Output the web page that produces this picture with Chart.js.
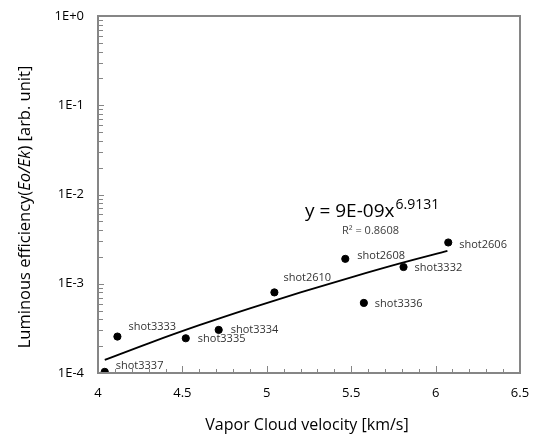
<!DOCTYPE html>
<html>
<head>
<meta charset="utf-8">
<script src="https://cdn.jsdelivr.net/npm/chart.js@4.4.1/dist/chart.umd.min.js"></script>
<style>
  html, body { margin: 0; padding: 0; background: #fff; }
  #wrap { width: 534px; height: 436px; }
</style>
</head>
<body>
<div id="wrap"><canvas id="chart"></canvas></div>
<script>
// shots
const shotNames = ["shot3337", "shot3333", "shot3335", "shot3334", "shot2610", "shot2608", "shot3336", "shot3332", "shot2606"];
const velocity = [4.04, 4.115, 4.52, 4.715, 5.045, 5.465, 5.575, 5.81, 6.075];
const efficiency = [1.03e-4, 2.56e-4, 2.45e-4, 3.04e-4, 8.0e-4, 1.9e-3, 6.1e-4, 1.54e-3, 2.9e-3];

// trend line points
const trendX = [4.04, 4.3, 4.6, 4.9, 5.2, 5.5, 5.8, 6.07];
const trendY = [1.4e-4, 2.15e-4, 3.43e-4, 5.3e-4, 8.0e-4, 1.18e-3, 1.71e-3, 2.33e-3];

const yDecades = [1e-4, 1e-3, 1e-2, 1e-1, 1];
const xTicks = [4, 4.5, 5, 5.5, 6, 6.5];

// label placement relative to each point (text left edge / vertical middle)
const labelOffsets = [[11, -6], [11, -10], [12, 1], [12, 0], [9, -15], [12, -3], [11, 1], [11, 1], [11, 2]];

const AXIS_COLOR = "#868686";
const FONT = "'Open Sans', 'Noto Sans', sans-serif";

function decadeLabel(v) {
  const e = Math.round(Math.log10(v));
  return "1E" + (e >= 0 ? "+" : "-") + Math.abs(e);
}

const titles = {
  id: "titles",
  afterDraw(chart) {
    const ctx = chart.ctx;
    const a = chart.chartArea;
    ctx.save();
    try {
      ctx.fillStyle = "#000";
      ctx.font = "16px " + FONT;
      ctx.textAlign = "center";
      ctx.textBaseline = "middle";
      ctx.fillText("Vapor Cloud velocity [km/s]", (a.left + a.right) / 2 - 2, 425);

      // y title, the ratio in italics
      const sz = "16.5px ";
      const parts = [
        ["Luminous efficiency(", sz + FONT],
        ["E", "italic " + sz + FONT],
        ["o", "italic " + sz + FONT],
        ["/", "italic " + sz + FONT],
        ["Ek", "italic " + sz + FONT],
        [") [arb. unit]", sz + FONT]
      ];
      let total = 0;
      parts.forEach(p => { ctx.font = p[1]; p.push(ctx.measureText(p[0]).width); total += p[2]; });
      ctx.translate(25, 207);
      ctx.rotate(-Math.PI / 2);
      ctx.textAlign = "left";
      let cx = -total / 2;
      parts.forEach(p => { ctx.font = p[1]; ctx.fillText(p[0], cx, 0); cx += p[2]; });
    } catch (e) { /* ignore */ }
    ctx.restore();

    ctx.save();
    try {
      ctx.fillStyle = "#000";
      ctx.textBaseline = "middle";
      ctx.textAlign = "left";
      ctx.font = "19px " + FONT;
      ctx.fillText("y = 9E-09x", 305, 212);
      const w = ctx.measureText("y = 9E-09x").width;
      ctx.font = "14px " + FONT;
      ctx.fillText("6.9131", 305 + w + 1, 205);
      ctx.fillStyle = "#404040";
      ctx.font = "11px " + FONT;
      ctx.fillText("R² = 0.8608", 342, 231);
    } catch (e) { /* ignore */ }
    ctx.restore();
  }
};

// plot box and inward ticks
const box = {
  id: "box",
  afterDraw(chart) {
    const ctx = chart.ctx;
    const sx = chart.scales.x, sy = chart.scales.y;
    ctx.save();
    try {
      const L = Math.round(sx.getPixelForValue(4));
      const R = Math.round(sx.getPixelForValue(6.5));
      const T = Math.round(sy.getPixelForValue(1));
      const B = Math.round(sy.getPixelForValue(1e-4));
      ctx.fillStyle = AXIS_COLOR;
      ctx.fillRect(L - 1, T - 1, R - L + 2, 2);
      ctx.fillRect(L - 1, B - 1, R - L + 2, 2);
      ctx.fillRect(L - 1, T - 1, 2, B - T + 2);
      ctx.fillRect(R - 1, T - 1, 2, B - T + 2);
      for (let d = 0; d < yDecades.length - 1; d++) {
        for (let m = 1; m <= 9; m++) {
          const py = Math.round(sy.getPixelForValue(yDecades[d] * m));
          ctx.fillRect(L, py, m === 1 ? 6 : 5, 1);
        }
      }
      for (let i = 0; i <= 25; i++) {
        const px = Math.round(sx.getPixelForValue(4 + i * 0.1));
        const len = i % 5 === 0 ? 7 : 4;
        ctx.fillRect(px, B - len, 1, len);
      }
    } catch (e) { /* ignore */ }
    ctx.restore();
  }
};

const pointLabels = {
  id: "pointLabels",
  afterDatasetsDraw(chart) {
    const ctx = chart.ctx;
    const pts = chart.getDatasetMeta(1).data;
    ctx.save();
    ctx.fillStyle = "#333";
    ctx.font = "11px " + FONT;
    ctx.textAlign = "left";
    ctx.textBaseline = "middle";
    pts.forEach((p, i) => {
      ctx.fillText(shotNames[i], p.x + labelOffsets[i][0], p.y + labelOffsets[i][1]);
    });
    ctx.restore();
  }
};

new Chart(document.getElementById("chart"), {
  type: "scatter",
  data: {
    datasets: [
      {
        type: "line",
        data: trendX.map((x, i) => ({ x: x, y: trendY[i] })),
        borderColor: "#000",
        borderWidth: 1.8,
        pointRadius: 0,
        fill: false,
        cubicInterpolationMode: "monotone"
      },
      {
        data: velocity.map((x, i) => ({ x: x, y: efficiency[i] })),
        backgroundColor: "#000",
        borderColor: "#000",
        pointRadius: 3.6
      }
    ]
  },
  options: {
    responsive: true,
    maintainAspectRatio: false,
    animation: false,
    layout: { padding: { top: 16, right: 14, left: 0, bottom: 0 } },
    plugins: { legend: { display: false }, tooltip: { enabled: false } },
    scales: {
      x: {
        type: "linear",
        min: 4, max: 6.5,
        afterFit(s) { s.height = 63; s.paddingLeft = 0; s.paddingRight = 0; },
        afterBuildTicks(s) { s.ticks = xTicks.map(v => ({ value: v })); },
        grid: { display: false, drawTicks: false },
        border: { display: false },
        ticks: { color: "#000", padding: 12, font: { family: FONT, size: 13 }, maxRotation: 0, callback: v => String(v) }
      },
      y: {
        type: "logarithmic",
        min: 1e-4, max: 1,
        afterFit(s) { s.width = 98; s.paddingTop = 0; s.paddingBottom = 0; },
        afterBuildTicks(s) { s.ticks = yDecades.map(v => ({ value: v })); },
        grid: { display: false, drawTicks: false },
        border: { display: false },
        ticks: { color: "#000", padding: 14, font: { family: FONT, size: 13 }, callback: v => decadeLabel(v) }
      }
    }
  },
  plugins: [pointLabels, titles, box]
});
</script>
</body>
</html>
